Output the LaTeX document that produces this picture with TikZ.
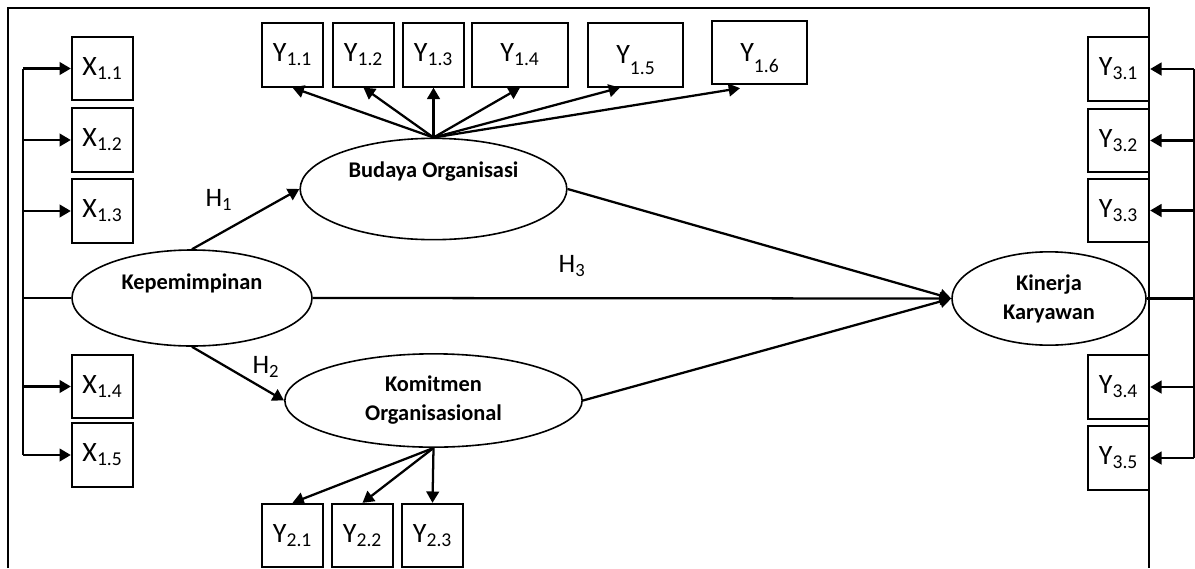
\documentclass[tikz,border=0pt]{standalone}
\usepackage{fontspec}
\setmainfont{Carlito}
\usetikzlibrary{arrows.meta,shapes.geometric}

\newcommand{\lowsub}[1]{\raisebox{-8pt}[0pt][0pt]{\fontsize{14.7}{15}\selectfont #1}}

\begin{document}
\begin{tikzpicture}[x=0.75pt,y=-0.75pt,
    >={Triangle[length=8.5pt,width=9.5pt]},
    link/.style={line width=1.7pt},
    ind/.style={draw, line width=1.5pt, minimum width=46pt, minimum height=47.5pt, inner sep=0pt, font=\fontsize{21}{25}\selectfont},
    wide/.style={ind, minimum width=71.5pt},
    latent/.style={ellipse, draw, line width=1.2pt, inner sep=0pt},
    lbl/.style={font=\fontsize{16.8}{21.75}\selectfont\bfseries, align=center},
    hyp/.style={font=\fontsize{20}{24}\selectfont}]

        \useasboundingbox (0,0) rectangle (1195,568);
        \draw[line width=1.4pt] (8,568) -- (8,8) -- (1149,8) -- (1149,568);

        % latent variables
        \node[latent, minimum width=180pt, minimum height=72pt, label={[lbl,yshift=11.25pt]center:Kepemimpinan}] (kep) at (192,298) {};
        \node[latent, minimum width=200pt, minimum height=76pt, label={[lbl,yshift=13.2pt]center:Budaya Organisasi}] (budaya) at (433.5,189) {};
        \node[latent, lbl, minimum width=223pt, minimum height=70pt] (komit) at (433.5,400.5) {Komitmen\\Organisasional};
        \node[latent, lbl, minimum width=145.5pt, minimum height=70pt] (kin) at (1049,298.5) {Kinerja\\Karyawan};

        % indicators
        \node[ind] (x11) at (102.5,68.5) {X\textsubscript{1.1}};
        \node[ind] (x12) at (102.5,140) {X\textsubscript{1.2}};
        \node[ind] (x13) at (102.5,211) {X\textsubscript{1.3}};
        \node[ind] (x14) at (102.5,386.5) {X\textsubscript{1.4}};
        \node[ind] (x15) at (102.5,455) {X\textsubscript{1.5}};

        \node[ind] (y11) at (292.5,55) {Y\textsubscript{1.1}};
        \node[ind] (y12) at (363.5,55) {Y\textsubscript{1.2}};
        \node[ind] (y13) at (433.5,55) {Y\textsubscript{1.3}};
        \node[wide] (y14) at (520,55) {Y\textsubscript{1.4}\hspace{12pt}};
        \node[wide] (y15) at (635.5,55) {Y\lowsub{1.5}\hspace{12pt}};
        \node[wide] (y16) at (759.5,52.5) {Y\lowsub{1.6}\hspace{12pt}};

        \node[ind] (y21) at (292.5,535.5) {Y\textsubscript{2.1}};
        \node[ind] (y22) at (362.5,535.5) {Y\textsubscript{2.2}};
        \node[ind] (y23) at (432.5,535.5) {Y\textsubscript{2.3}};

        \node[ind] (y31) at (1118.5,69) {Y\textsubscript{3.1}};
        \node[ind] (y32) at (1118.5,140.5) {Y\textsubscript{3.2}};
        \node[ind] (y33) at (1118.5,210.5) {Y\textsubscript{3.3}};
        \node[ind] (y34) at (1118.5,387) {Y\textsubscript{3.4}};
        \node[ind] (y35) at (1118.5,458) {Y\textsubscript{3.5}};

        \node[hyp] (h1) at (219,200) {H\textsubscript{1}};
        \node[hyp] (h2) at (266,367) {H\textsubscript{2}};
        \node[hyp] (h3) at (572,266) {H\textsubscript{3}};

        % left bus
        \coordinate (xtop) at (23,68.5);
        \coordinate (xbot) at (23,455);
        \draw[link] (xtop) -- (xbot);
        \draw[link] (kep.west) -- (kep.west -| xtop);
        \draw[link,->] (xtop |- x11) -- (x11);
        \draw[link,->] (xtop |- x12) -- (x12);
        \draw[link,->] (xtop |- x13) -- (x13);
        \draw[link,->] (xtop |- x14) -- (x14);
        \draw[link,->] (xtop |- x15) -- (x15);

        % right bus
        \coordinate (ytop) at (1194,69);
        \coordinate (ybot) at (1194,458);
        \draw[link] (ytop) -- (ybot);
        \draw[link] (kin.east) -- (kin.east -| ytop);
        \draw[link,->] (ytop |- y31) -- (y31);
        \draw[link,->] (ytop |- y32) -- (y32);
        \draw[link,->] (ytop |- y33) -- (y33);
        \draw[link,->] (ytop |- y34) -- (y34);
        \draw[link,->] (ytop |- y35) -- (y35);

        % paths
        \draw[link,->] (kep.north) -- (budaya.west);
        \draw[link,->] (kep.south) -- (komit.west);
        \draw[link,->] (kep.east) -- (kin.west);
        \draw[link,->] (budaya.east) -- (kin.west);
        \draw[link,->] (komit.east) -- (kin.west);

        \draw[link,->] (budaya.north) -- (y11.south);
        \draw[link,->] (budaya.north) -- (y12.south);
        \draw[link,->] (budaya.north) -- (y13.south);
        \draw[link,->] (budaya.north) -- (y14.south);
        \draw[link,->] (budaya.north) -- ([xshift=-11.6pt]y15.south);
        \draw[link,->] (budaya.north) -- ([xshift=-14.6pt,yshift=-2.25pt]y16.south);

        \draw[link,->] (komit.south) -- (y21.north);
        \draw[link,->] (komit.south) -- (y22.north);
        \draw[link,->] (komit.south) -- (y23.north);

    \end{tikzpicture}
\end{document}
